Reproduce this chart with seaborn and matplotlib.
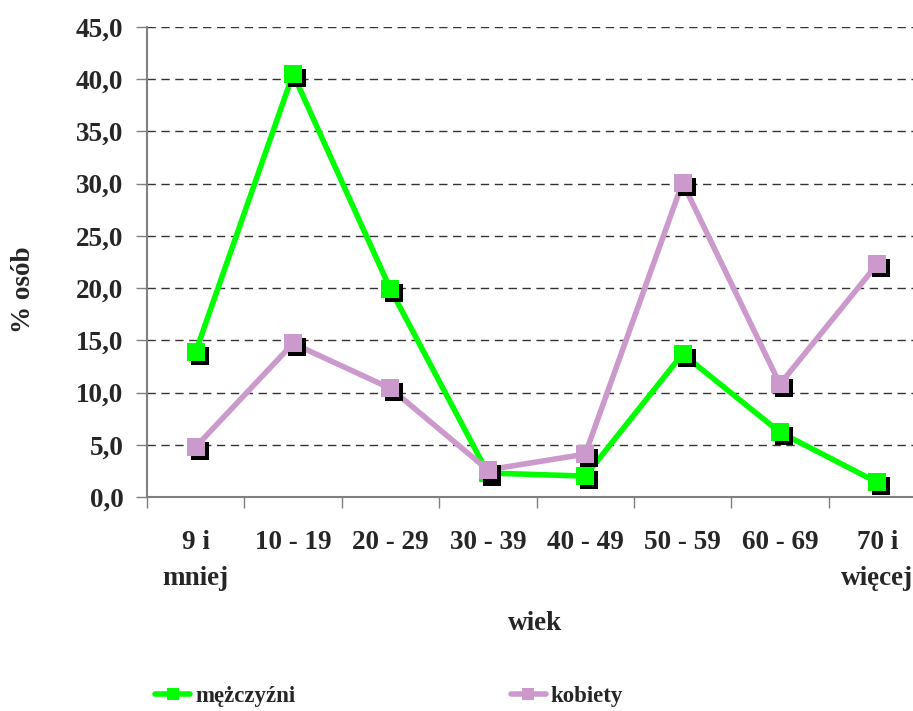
import matplotlib
matplotlib.use("Agg")
import matplotlib.pyplot as plt
import seaborn as sns
import pandas as pd
from matplotlib.transforms import offset_copy
from matplotlib.ticker import MultipleLocator, FuncFormatter

categories = ["9 i\nmniej", "10 - 19", "20 - 29", "30 - 39", "40 - 49",
              "50 - 59", "60 - 69", "70 i\nwięcej"]
men = [13.9, 40.5, 19.9, 2.3, 2.0, 13.7, 6.2, 1.4]
women = [4.8, 14.7, 10.4, 2.6, 4.1, 30.1, 10.8, 22.3]
series_names = ["mężczyźni", "kobiety"]
colors = ["#00FF00", "#CC99CC"]

FS = 19.5
LFS = 16.5

sns.set_theme(style="white")
plt.rcParams["font.family"] = ["Liberation Serif", "DejaVu Serif"]
plt.rcParams["font.weight"] = "bold"

fig = plt.figure(figsize=(9.13, 7.11), dpi=100)
ax = fig.add_axes([147 / 913, 214 / 711, 779 / 913, 470 / 711])

x = list(range(len(categories)))
df = pd.DataFrame({"x": x * 2,
                   "value": men + women,
                   "series": [series_names[0]] * len(x) + [series_names[1]] * len(x)})

shadow_tr = offset_copy(ax.transData, fig=fig, x=4, y=-4, units="dots")
for i, (name, col) in enumerate(zip(series_names, colors)):
    sub = df[df["series"] == name]
    sns.lineplot(data=sub, x="x", y="value", ax=ax, color=col, linewidth=4,
                 marker="s", markersize=13, markeredgewidth=0,
                 label=name, zorder=3 + 3 * i)
    ax.plot(sub["x"], sub["value"], linestyle="none", marker="s", markersize=13,
            markeredgewidth=0, color="black", transform=shadow_tr, zorder=4 + 3 * i)
    ax.plot(sub["x"], sub["value"], linestyle="none", marker="s", markersize=13,
            markeredgewidth=0, color=col, zorder=5 + 3 * i)

ax.set_xlim(-0.5, len(categories) - 0.5)
ax.set_ylim(0, 45)
ax.yaxis.set_major_locator(MultipleLocator(5))
ax.yaxis.set_major_formatter(FuncFormatter(lambda v, p: f"{v:.1f}".replace(".", ",")))
ax.set_xticks([i + 0.5 for i in x[:-1]] + [-0.5], minor=False)
ax.set_xticklabels([])
ax.set_xticks(x, minor=True)
ax.set_xticklabels(categories, minor=True, fontsize=FS, fontweight="bold",
                   linespacing=1.55)
ax.tick_params(axis="x", which="minor", length=0, pad=24)
ax.tick_params(axis="x", which="major", length=8, width=1, color="#808080",
               direction="out", bottom=True)
ax.tick_params(axis="y", length=8, width=1, color="#808080", direction="out",
               left=True, pad=9, labelsize=FS)
for lab in ax.get_yticklabels():
    lab.set_fontweight("bold")

ax.grid(axis="y", color="#333333", linestyle=(0, (6, 4)), linewidth=1)
ax.grid(axis="x", visible=False)
ax.set_axisbelow(True)
for s in ["top", "right"]:
    ax.spines[s].set_visible(False)
for s in ["left", "bottom"]:
    ax.spines[s].set_color("#808080")
    ax.spines[s].set_linewidth(1.5)

ax.set_xlabel("wiek", fontsize=FS, fontweight="bold")
ax.set_ylabel("% osób", fontsize=FS, fontweight="bold")
ax.xaxis.set_label_coords((535 - 147) / 779, -(611 - 497) / 470)
ax.yaxis.set_label_coords(-(147 - 36) / 779, (497 - 290) / 470)

ax.get_legend().remove()
handles, labels = ax.get_legend_handles_labels()
fig.legend(handles[:2], labels[:2], loc="center left",
           bbox_to_anchor=(155 / 913, 15 / 711), ncol=2, frameon=False,
           prop={"size": LFS, "weight": "bold"}, handlelength=1.53,
           handletextpad=0.22, columnspacing=9.4, borderpad=0, borderaxespad=0,
           markerscale=0.7)

fig.savefig("out.png", dpi=100)
